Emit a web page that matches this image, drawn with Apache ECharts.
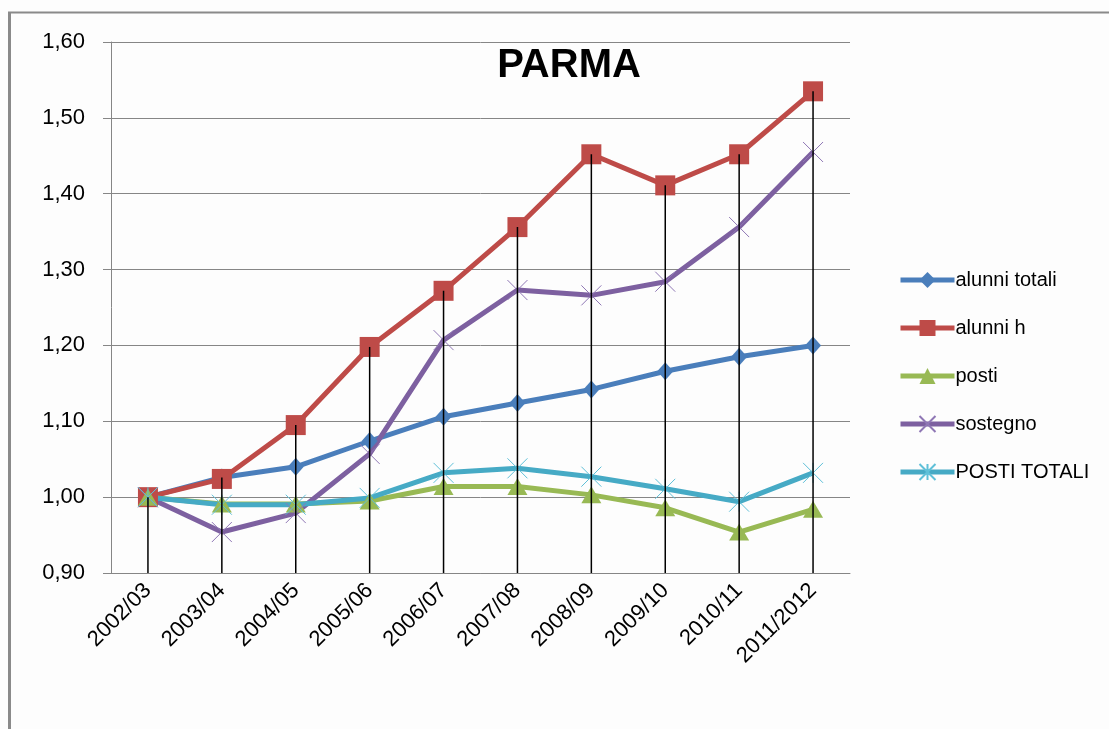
<!DOCTYPE html>
<html>
<head>
<meta charset="utf-8">
<script src="https://cdn.jsdelivr.net/npm/echarts@6/dist/echarts.min.js"></script>
<style>
  html, body { margin: 0; padding: 0; background: #fdfdfd; }
  #chart { width: 1109px; height: 729px; }
</style>
</head>
<body>
<div id="chart"></div>
<script>
// anni scolastici
const years = ['2002/03', '2003/04', '2004/05', '2005/06', '2006/07', '2007/08', '2008/09', '2009/10', '2010/11', '2011/2012'];
// indici (base 2002/03 = 1)
const alunniTotali = [1.000, 1.026, 1.040, 1.074, 1.106, 1.124, 1.142, 1.166, 1.185, 1.200];
const alunniH      = [1.000, 1.024, 1.095, 1.198, 1.272, 1.356, 1.452, 1.411, 1.452, 1.535];
const posti        = [1.000, 0.991, 0.991, 0.995, 1.014, 1.014, 1.003, 0.986, 0.954, 0.984];
const sostegno     = [1.000, 0.954, 0.979, 1.057, 1.207, 1.273, 1.266, 1.284, 1.356, 1.455];
const postiTotali  = [1.000, 0.990, 0.990, 0.999, 1.032, 1.038, 1.027, 1.011, 0.994, 1.032];
const yTicks = [0.90, 1.00, 1.10, 1.20, 1.30, 1.40, 1.50, 1.60];

// linee di proiezione: dal valore massimo fino all'asse
const allSeries = [alunniTotali, alunniH, posti, sostegno, postiTotali];
const dropTops = years.map((_, i) => Math.max(...allSeries.map(s => s[i])));

const chart = echarts.init(document.getElementById('chart'));

const crossPath = 'path://M0,0L10,10M10,0L0,10';
const starPath = 'path://M0,0L10,10M10,0L0,10M5,0L5,10';

function lineSeries(name, data, color, symbol, size, extra) {
    return Object.assign({
        name: name,
        type: 'line',
        data: data,
        symbol: symbol,
        symbolSize: size,
        lineStyle: { color: color, width: 5 },
        itemStyle: { color: color },
        emphasis: { disabled: true }
    }, extra || {});
}

const option = {
    backgroundColor: '#fdfdfd',
    animation: false,
    textStyle: { fontFamily: 'Liberation Sans, Arial, sans-serif' },
    title: {
        text: 'PARMA',
        left: 564,
        top: 41,
        textAlign: 'center',
        textStyle: { fontSize: 40, fontWeight: 'bold', color: '#000', fontFamily: 'Liberation Sans, Arial, sans-serif' }
    },
    legend: {
        orient: 'vertical',
        left: 893,
        top: 265,
        itemWidth: 54,
        itemHeight: 20,
        itemGap: 28,
        lineStyle: { width: 5 },
        textStyle: { fontSize: 20, color: '#000', padding: [0, 0, 0, -4] },
        data: ['alunni totali', 'alunni h', 'posti', 'sostegno', 'POSTI TOTALI']
    },
    grid: { left: 111, right: 259, top: 42, bottom: 156 },
    xAxis: {
        type: 'category',
        data: years,
        boundaryGap: true,
        axisLine: { lineStyle: { color: '#868686', width: 1 } },
        axisTick: { show: false },
        axisLabel: { rotate: 45, fontSize: 22, color: '#000', margin: 14, interval: 0 }
    },
    yAxis: {
        type: 'value',
        min: 0.9,
        max: 1.6,
        interval: 0.1,
        axisLine: { show: true, lineStyle: { color: '#868686', width: 1 } },
        axisTick: { show: true, length: 8, lineStyle: { color: '#868686' } },
        splitLine: { lineStyle: { color: '#868686', width: 1 } },
        axisLabel: {
            fontSize: 22,
            color: '#000',
            margin: 26,
            formatter: v => {
                const t = yTicks.find(k => Math.abs(k - v) < 1e-6);
                return (t !== undefined ? t : v).toFixed(2).replace('.', ',');
            }
        }
    },
    series: [
        lineSeries('alunni totali', alunniTotali, '#4a7ebb', 'diamond', [16, 18]),
        lineSeries('alunni h', alunniH, '#be4b48', 'rect', 20),
        lineSeries('posti', posti, '#98b954', 'triangle', [20, 17]),
        lineSeries('sostegno', sostegno, '#7d60a0', crossPath, 20, {
            itemStyle: { color: 'rgba(0,0,0,0)', borderColor: '#8f77b5', borderWidth: 1 }
        }),
        lineSeries('POSTI TOTALI', postiTotali, '#46aac5', starPath, 20, {
            itemStyle: { color: 'rgba(0,0,0,0)', borderColor: '#5fc0d8', borderWidth: 1 }
        }),
        {
            name: 'drop',
            type: 'custom',
            z: 10,
            silent: true,
            data: dropTops.map((v, i) => [i, v]),
            renderItem: function (params, api) {
                const top = api.coord([api.value(0), api.value(1)]);
                const bottom = api.coord([api.value(0), 0.9]);
                return {
                    type: 'line',
                    shape: { x1: top[0], y1: top[1], x2: bottom[0], y2: bottom[1] },
                    style: { stroke: '#000', lineWidth: 1.5 }
                };
            }
        }
    ],
    graphic: [
        { type: 'line', shape: { x1: 9.5, y1: 12, x2: 9.5, y2: 729 }, style: { stroke: '#8a8a8a', lineWidth: 3 } },
        { type: 'line', shape: { x1: 8, y1: 12.5, x2: 1109, y2: 12.5 }, style: { stroke: '#8a8a8a', lineWidth: 2 } }
    ]
};

chart.setOption(option);
</script>
</body>
</html>
